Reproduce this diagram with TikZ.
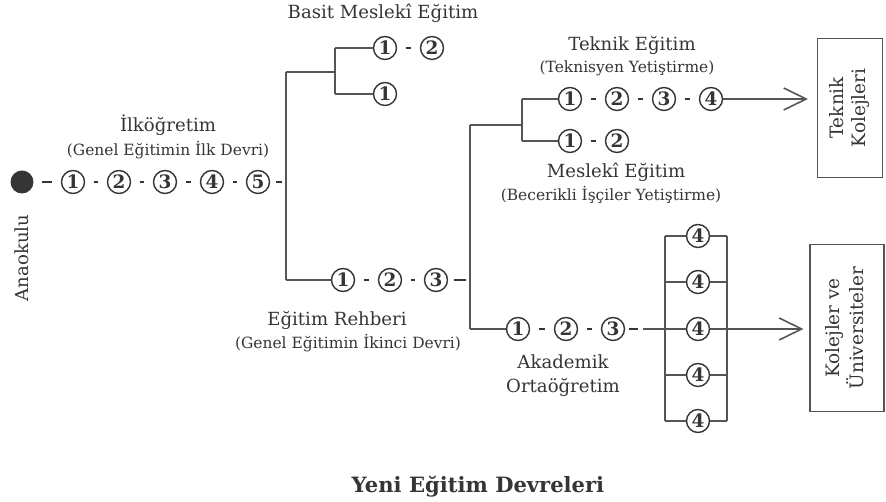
\documentclass[tikz,border=0pt]{standalone}
\usepackage{fontspec}
\setmainfont{DejaVu Serif}
\usetikzlibrary{arrows.meta}
\definecolor{ink}{HTML}{353535}
\definecolor{wire}{HTML}{555555}
\begin{document}
\begin{tikzpicture}[x=0.02cm,y=-0.02cm,
  num/.style={circle, draw=ink, line width=0.8pt, minimum size=0.46cm, inner sep=0pt, text=ink, font=\fontsize{10.5}{10.5}\selectfont\bfseries},
  ln/.style={draw=wire, line width=0.6pt},
  hy/.style={draw=ink, line width=1.2pt, shorten <=0.17cm, shorten >=0.17cm},
  tail/.style={draw=ink, line width=1.2pt, shorten <=0.12cm, shorten >=0.08cm},
  thick dash/.style={draw=ink, line width=1.2pt},
  arr/.style={ln, -{Straight Barb[length=0.45cm, width=0.44cm, line width=0.9pt]}},
  lbl/.style={text=ink, font=\fontsize{10.3}{12}\selectfont, inner sep=0pt},
  sub/.style={text=ink, font=\fontsize{8.8}{10}\selectfont, inner sep=0pt},
  boxnode/.style={draw=wire, line width=0.6pt, inner sep=0pt, text=ink, font=\fontsize{10.5}{13}\selectfont}]
\useasboundingbox[fill=white] (0,0) rectangle (886,502);

% labels
\node[lbl] (basit) at (383,13) {Basit Meslekî Eğitim};
\node[lbl] (ilk) at (168,125) {İlköğretim};
\node[sub] (ilksub) at (168,150) {(Genel Eğitimin İlk Devri)};
\node[lbl] (rehber) at (337,320) {Eğitim Rehberi};
\node[sub] (rehbersub) at (348,343) {(Genel Eğitimin İkinci Devri)};
\node[lbl] (teknik) at (632,45) {Teknik Eğitim};
\node[sub] (tekniksub) at (627,68) {(Teknisyen Yetiştirme)};
\node[lbl] (meslek) at (616,172) {Meslekî Eğitim};
\node[sub] (mesleksub) at (611,195) {(Becerikli İşçiler Yetiştirme)};
\node[lbl] (akad) at (563,362) {Akademik};
\node[lbl] (orta) at (563,387) {Ortaöğretim};
\node[lbl, rotate=90] (ana) at (22,258) {Anaokulu};
\node[text=ink, font=\fontsize{12}{14}\selectfont\bfseries] (title) at (478,487) {Yeni Eğitim Devreleri};

% main chain
\node[circle, fill=ink, minimum size=0.46cm, inner sep=0pt] (dot) at (22,182) {};
\node[num] (a1) at (73,182) {1};
\node[num] (a2) at (119,182) {2};
\node[num] (a3) at (165,182) {3};
\node[num] (a4) at (212,182) {4};
\node[num] (a5) at (258,182) {5};
\draw[hy] (dot) -- (a1);
\draw[hy] (a1) -- (a2);
\draw[hy] (a2) -- (a3);
\draw[hy] (a3) -- (a4);
\draw[hy] (a4) -- (a5);
\coordinate (j1) at (286,182);
\draw[tail] (a5) -- (j1);

\coordinate (v1t) at (286,72);
\coordinate (v1b) at (286,280);
\draw[ln] (v1t) -- (v1b);

% basit mesleki
\coordinate (v2m) at (335,72);
\coordinate (v2t) at (335,48);
\coordinate (v2b) at (335,94);
\draw[ln] (v1t) -- (v2m);
\draw[ln] (v2t) -- (v2b);
\node[num] (b1) at (385,48) {1};
\node[num] (b2) at (432,48) {2};
\node[num] (c1) at (385,94) {1};
\draw[ln] (v2t) -- (b1);
\draw[hy] (b1) -- (b2);
\draw[ln] (v2b) -- (c1);

% egitim rehberi
\node[num] (r1) at (343,280) {1};
\node[num] (r2) at (390,280) {2};
\node[num] (r3) at (436,280) {3};
\draw[ln] (v1b) -- (r1);
\draw[hy] (r1) -- (r2);
\draw[hy] (r2) -- (r3);
\coordinate (j2) at (470,280);
\draw[tail] (r3) -- (j2);

\coordinate (v3t) at (470,125);
\coordinate (v3b) at (470,329);
\draw[ln] (v3t) -- (v3b);

% teknik / mesleki
\coordinate (v4m) at (522,125);
\coordinate (v4t) at (522,99);
\coordinate (v4b) at (522,141);
\draw[ln] (v3t) -- (v4m);
\draw[ln] (v4t) -- (v4b);
\node[num] (t1) at (570,99) {1};
\node[num] (t2) at (617,99) {2};
\node[num] (t3) at (664,99) {3};
\node[num] (t4) at (711,99) {4};
\draw[ln] (v4t) -- (t1);
\draw[hy] (t1) -- (t2);
\draw[hy] (t2) -- (t3);
\draw[hy] (t3) -- (t4);
\node[num] (m1) at (570,141) {1};
\node[num] (m2) at (617,141) {2};
\draw[ln] (v4b) -- (m1);
\draw[hy] (m1) -- (m2);

% boxes
\node[boxnode, minimum width=1.3cm, minimum height=2.78cm] (tk) at (850,108)
  {\rotatebox{90}{\begin{tabular}{@{}c@{}}Teknik\\Kolejleri\end{tabular}}};
\node[boxnode, minimum width=1.48cm, minimum height=3.34cm] (ku) at (847,328)
  {\rotatebox{90}{\begin{tabular}{@{}c@{}}Kolejler ve\\Üniversiteler\end{tabular}}};

\draw[thick dash] ([xshift=0.06cm]t4.east) -- ++(8,0);
\draw[arr, shorten >=0.18cm] (t4) -- (t4 -| tk.west);

% akademik
\node[num] (k1) at (518,329) {1};
\node[num] (k2) at (566,329) {2};
\node[num] (k3) at (613,329) {3};
\draw[ln] (v3b) -- (k1);
\draw[hy] (k1) -- (k2);
\draw[hy] (k2) -- (k3);

\foreach \i/\y in {1/236,2/282,3/329,4/375,5/421}{
  \node[num] (f\i) at (698,\y) {4};
  \coordinate (fl\i) at (665,\y);
  \coordinate (fr\i) at (727,\y);
  \draw[ln] (fl\i) -- (f\i);
  \draw[ln] (f\i) -- (fr\i);
}
\draw[ln] (fl1) -- (fl5);
\draw[ln] (fr1) -- (fr5);

\draw[thick dash] ([xshift=0.08cm]k3.east) -- ++(9,0);
\draw[ln] ([xshift=0.36cm]k3.east) -- (f3);
\draw[arr, shorten >=0.12cm] (f3) -- (f3 -| ku.west);
\end{tikzpicture}
\end{document}
